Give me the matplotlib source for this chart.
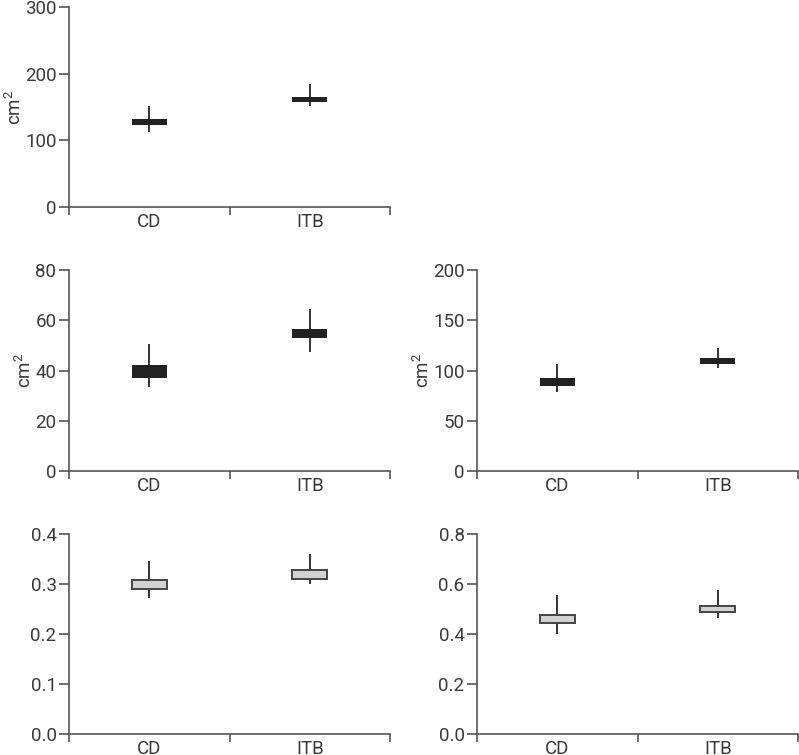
import matplotlib
matplotlib.use("Agg")
import matplotlib.pyplot as plt
from matplotlib.ticker import FormatStrFormatter

plt.rcParams['font.family'] = ['Roboto', 'DejaVu Sans']
plt.rcParams['font.weight'] = 'normal'
plt.rcParams['mathtext.fontset'] = 'custom'
plt.rcParams['mathtext.rm'] = 'Roboto'
plt.rcParams['mathtext.default'] = 'regular'

categories = ["CD", "ITB"]

# panel 1 (top-left), cm^2
p1_q1 = [123, 157.5]
p1_q3 = [132, 165.5]
p1_lo = [113, 151.5]
p1_hi = [151, 184.5]

# panel 2 (middle-left), cm^2
p2_q1 = [37.1, 52.9]
p2_q3 = [42.1, 56.5]
p2_lo = [33.5, 47.5]
p2_hi = [50.4, 64.5]

# panel 3 (middle-right), cm^2
p3_q1 = [84.7, 106.3]
p3_q3 = [92.4, 112.3]
p3_lo = [78.7, 102]
p3_hi = [106, 122]

# panel 4 (bottom-left), ratio
p4_q1 = [0.290, 0.310]
p4_q3 = [0.309, 0.329]
p4_lo = [0.273, 0.300]
p4_hi = [0.347, 0.360]

# panel 5 (bottom-right), ratio
p5_q1 = [0.443, 0.489]
p5_q3 = [0.475, 0.513]
p5_lo = [0.399, 0.463]
p5_hi = [0.556, 0.576]

W, H = 799, 755
fig = plt.figure(figsize=(W / 100, H / 100), dpi=100)

def mk(x0, y0, x1, y1):
    return fig.add_axes([x0 / W, 1 - y1 / H, (x1 - x0) / W, (y1 - y0) / H])

axis_col = "#555555"
text_col = "#3a3a3a"
FS = 13.5

def draw(ax, q1, q3, lo, hi, ylim, yticks, fmt, dark, ylabel):
    xs = [0.5, 1.5]
    ax.vlines(xs, lo, hi, color="#333333", lw=1.4, zorder=2)
    heights = [b - a for a, b in zip(q1, q3)]
    if dark:
        ax.bar(xs, heights, bottom=q1, width=0.218, color="#222222",
               edgecolor="none", zorder=3)
    else:
        ax.bar(xs, heights, bottom=q1, width=0.218, color="#d2d2d2",
               edgecolor="#444444", linewidth=1.4, zorder=3)
    ax.set_xlim(0, 2)
    ax.set_ylim(*ylim)
    ax.set_yticks(yticks)
    ax.yaxis.set_major_formatter(FormatStrFormatter(fmt))
    ax.set_xticks([0, 1, 2])
    ax.set_xticklabels([])
    ax.set_xticks(xs, minor=True)
    ax.set_xticklabels(categories, minor=True)
    ax.tick_params(axis='x', which='minor', length=0, pad=4,
                   labelsize=FS, labelcolor=text_col)
    ax.tick_params(axis='x', which='major', length=6, width=1.2,
                   color=axis_col)
    ax.tick_params(axis='y', length=7, width=1.2, color=axis_col,
                   labelsize=FS, labelcolor=text_col, pad=2)
    for s in ["top", "right"]:
        ax.spines[s].set_visible(False)
    for s in ["left", "bottom"]:
        ax.spines[s].set_color(axis_col)
        ax.spines[s].set_linewidth(1.2)
    if ylabel:
        ax.set_ylabel("cm$^2$", fontsize=FS, color=text_col, labelpad=0)

ax1 = mk(69, 7, 390, 207)
draw(ax1, p1_q1, p1_q3, p1_lo, p1_hi, (0, 300), [0, 100, 200, 300], "%d", True, True)

ax2 = mk(69, 270, 390, 471)
draw(ax2, p2_q1, p2_q3, p2_lo, p2_hi, (0, 80), [0, 20, 40, 60, 80], "%d", True, True)

ax3 = mk(477, 270, 798, 471)
draw(ax3, p3_q1, p3_q3, p3_lo, p3_hi, (0, 200), [0, 50, 100, 150, 200], "%d", True, True)

ax4 = mk(69, 534, 390, 734)
draw(ax4, p4_q1, p4_q3, p4_lo, p4_hi, (0, 0.4), [0, 0.1, 0.2, 0.3, 0.4], "%.1f", False, False)

ax5 = mk(477, 534, 798, 734)
draw(ax5, p5_q1, p5_q3, p5_lo, p5_hi, (0, 0.8), [0, 0.2, 0.4, 0.6, 0.8], "%.1f", False, False)

fig.savefig("out.png", dpi=100)
